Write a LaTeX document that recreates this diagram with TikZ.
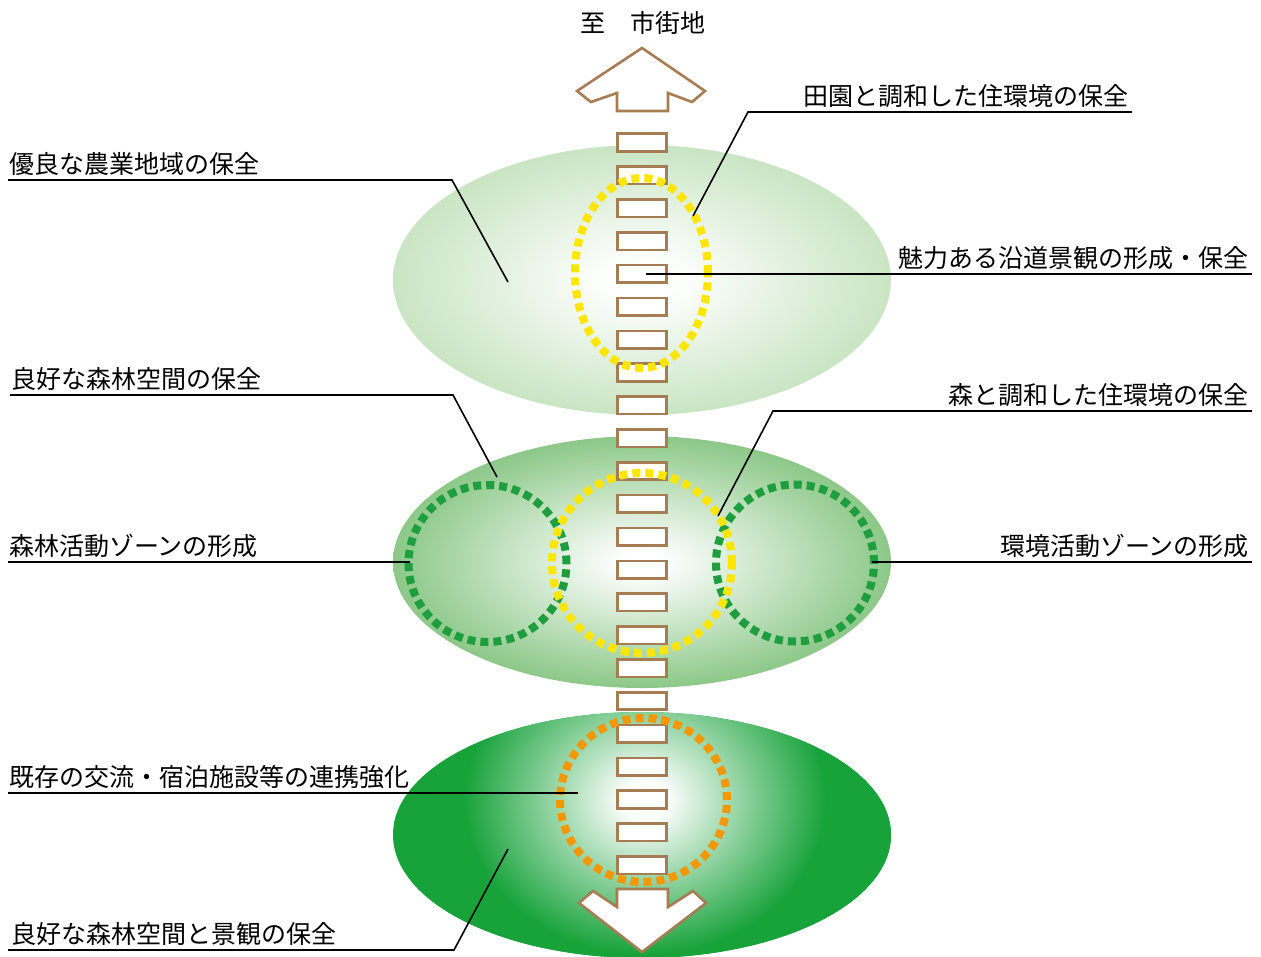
\documentclass[tikz,border=0pt]{standalone}
\usepackage{fontspec}
\setmainfont{Noto Sans CJK JP}
\usetikzlibrary{shapes.geometric}
\definecolor{brn}{HTML}{A67C52}
\definecolor{ylw}{HTML}{FFE600}
\definecolor{org}{HTML}{F39800}
\definecolor{gdot}{HTML}{1E9E3E}
\definecolor{gtop}{HTML}{C9E5C3}
\definecolor{gmid}{HTML}{8CC888}
\definecolor{gbot}{HTML}{17A23A}
\pgfdeclareradialshading{shtop}{\pgfpoint{0bp}{0bp}}{color(0bp)=(white); color(3bp)=(white); color(25bp)=(gtop); color(50bp)=(gtop)}
\pgfdeclareradialshading{shmid}{\pgfpoint{0bp}{0bp}}{color(0bp)=(white); color(2bp)=(white); color(25bp)=(gmid); color(50bp)=(gmid)}
\pgfdeclareradialshading{shbot}{\pgfpoint{0bp}{0bp}}{color(0bp)=(white); color(2bp)=(white); color(18bp)=(gbot); color(25bp)=(gbot); color(50bp)=(gbot)}
\tikzset{
  zone/.style={ellipse, inner sep=0pt, minimum width=498pt},
  rung/.style={rectangle, draw=brn, line width=2.6pt, fill=white, inner sep=0pt, minimum width=49pt, minimum height=17.5pt},
  dots/.style={ellipse, inner sep=0pt, line width=8pt, dash pattern=on 8pt off 5pt, draw=#1},
  lead/.style={draw=black, line width=1.6pt},
  lbl/.style={font=\fontsize{25}{27}\selectfont, inner sep=0pt},
  bigarrow/.style={draw=brn, fill=white, line width=2.6pt, line join=miter}
}
\begin{document}
\begin{tikzpicture}[x=1pt,y=-1pt]
\useasboundingbox (0,0) rectangle (1261,956);
% zones
\node[zone, shading=shtop, minimum height=270pt] (ztop) at (642,280) {};
\node[zone, shading=shmid, minimum height=252pt] (zmid) at (642,562) {};
\node[zone, fill=gbot, minimum height=246pt,
  path picture={\shade[shading=shbot] ([xshift=3pt,yshift=35pt]path picture bounding box.center) ellipse (252 and 215);}] (zbot) at (642,835) {};
% ladder
\foreach \i in {0,...,23} {
  \node[rung] (r\i) at (642,{142.5+\i*32.85}) {};
}
% dotted rings
\node[dots=ylw, minimum width=133pt, minimum height=190pt] (ytop) at (641.5,273) {};
\node[dots=gdot, minimum width=158pt, minimum height=157pt] (gleft) at (487.5,563.5) {};
\node[dots=gdot, minimum width=158pt, minimum height=157pt] (gright) at (795,563) {};
\node[dots=ylw, minimum width=180pt, minimum height=180pt] (ymid) at (642,563) {};
\node[dots=org, minimum width=167pt, minimum height=164pt] (obot) at (643.5,800) {};
% arrows
\draw[bigarrow] (642,48) -- (705,91) -- (692,102) -- (668,93) -- (668,111) -- (617,111) -- (617,93) -- (591,102) -- (577,91) -- cycle;
\draw[bigarrow] (617,889) -- (668,889) -- (668,907) -- (693,891) -- (706,903) -- (642,952) -- (579,903) -- (593,891) -- (617,907) -- cycle;
% labels
\node[lbl, anchor=base] (tcity) at (642.5,32) {至　市街地};
\node[lbl, anchor=base east] (t1) at (1128.5,105) {田園と調和した住環境の保全};
\node[lbl, anchor=base west] (t2) at (9,173) {優良な農業地域の保全};
\node[lbl, anchor=base east] (t3) at (1249,267) {魅力ある沿道景観の形成・保全};
\node[lbl, anchor=base west] (t4) at (11.5,388) {良好な森林空間の保全};
\node[lbl, anchor=base east] (t5) at (1249,404) {森と調和した住環境の保全};
\node[lbl, anchor=base west] (t6) at (9,555) {森林活動ゾーンの形成};
\node[lbl, anchor=base east] (t7) at (1249,555) {環境活動ゾーンの形成};
\node[lbl, anchor=base west] (t8) at (9,786) {既存の交流・宿泊施設等の連携強化};
\node[lbl, anchor=base west] (t9) at (11.5,943) {良好な森林空間と景観の保全};
% leader coordinates
\coordinate (a1) at (1132,112); \coordinate (b1) at (748,112); \coordinate (c1) at (693,216);
\coordinate (a2) at (8,180); \coordinate (b2) at (452,180); \coordinate (c2) at (508,282);
\coordinate (a3) at (1252,274); \coordinate (b3) at (646,274);
\coordinate (a4) at (10,395); \coordinate (b4) at (453,395); \coordinate (c4) at (497,477);
\coordinate (a5) at (1252,411); \coordinate (b5) at (773,411); \coordinate (c5) at (718,516);
\coordinate (a6) at (8,562); \coordinate (b6) at (410,562);
\coordinate (a7) at (1252,562); \coordinate (b7) at (872,562);
\coordinate (a8) at (8,793); \coordinate (b8) at (578,793);
\coordinate (a9) at (8,950); \coordinate (b9) at (454,950); \coordinate (c9) at (508,849);
\draw[lead] (a1) -- (b1) -- (c1);
\draw[lead] (a2) -- (b2) -- (c2);
\draw[lead] (a3) -- (b3);
\draw[lead] (a4) -- (b4) -- (c4);
\draw[lead] (a5) -- (b5) -- (c5);
\draw[lead] (a6) -- (b6);
\draw[lead] (a7) -- (b7);
\draw[lead] (a8) -- (b8);
\draw[lead] (a9) -- (b9) -- (c9);
\end{tikzpicture}
\end{document}
